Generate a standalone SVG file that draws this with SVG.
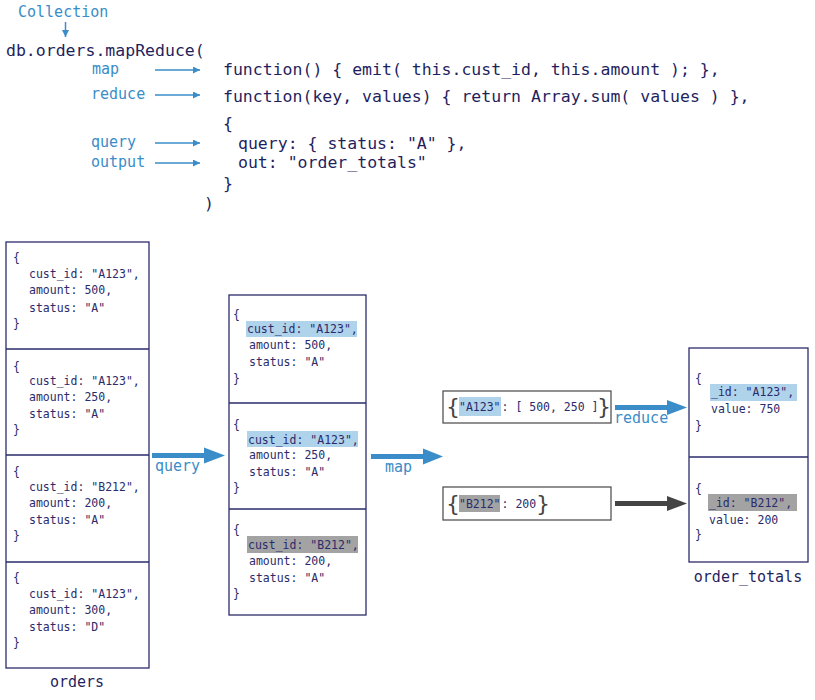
<svg xmlns="http://www.w3.org/2000/svg" width="815" height="700" viewBox="0 0 815 700">
<defs>
<style>
.code{font-family:"DejaVu Sans Mono","Liberation Mono",monospace;font-size:16.5px;fill:#1f1f5e}
.lbl{font-family:"DejaVu Sans Mono","Liberation Mono",monospace;font-size:15px;fill:#3a8dc8}
.doc{font-family:"DejaVu Sans Mono","Liberation Mono",monospace;font-size:11.5px;fill:#2b2b6b}
.brace{font-family:"DejaVu Sans","Liberation Sans",sans-serif;font-size:22px;fill:#444}
.box{fill:#fff;stroke:#2b2b6b;stroke-width:1.3}
.div{stroke:#2b2b6b;stroke-width:1.3}
.ebox{fill:#fff;stroke:#555;stroke-width:1.3}
.hb{fill:#b0d3ec}
.hg{fill:#a3a3a3}
.thin{stroke:#3a8dc8;stroke-width:1.5;fill:none}
</style>
<marker id="ah" viewBox="0 0 10 10" refX="10" refY="5" markerWidth="8" markerHeight="7" markerUnits="userSpaceOnUse" orient="auto">
<path d="M0,0 L10,5 L0,10 z" fill="#3a8dc8"/>
</marker>
</defs>

<g id="code">
<text class="lbl" x="18" y="17">Collection</text>
<text class="code" x="6" y="56">db.orders.mapReduce(</text>
<text class="code" x="223" y="75">function() { emit( this.cust_id, this.amount ); },</text>
<text class="code" x="223" y="102">function(key, values) { return Array.sum( values ) },</text>
<text class="code" x="223" y="129">{</text>
<text class="code" x="238" y="149">query: { status: "A" },</text>
<text class="code" x="238" y="168">out: "order_totals"</text>
<text class="code" x="223" y="189">}</text>
<text class="code" x="204" y="209">)</text>
<text class="lbl" x="92" y="74">map</text>
<text class="lbl" x="91" y="99">reduce</text>
<text class="lbl" x="91" y="147">query</text>
<text class="lbl" x="91" y="167">output</text>
</g>

<g id="orders">
<rect class="box" x="6" y="242" width="143" height="426"/>
<line class="div" x1="6" y1="349" x2="149" y2="349"/>
<line class="div" x1="6" y1="455" x2="149" y2="455"/>
<line class="div" x1="6" y1="562" x2="149" y2="562"/>
<text class="doc" x="13" y="262">{</text>
<text class="doc" x="29" y="278">cust_id: "A123",</text>
<text class="doc" x="29" y="294">amount: 500,</text>
<text class="doc" x="29" y="312">status: "A"</text>
<text class="doc" x="13" y="328">}</text>
<text class="doc" x="13" y="371">{</text>
<text class="doc" x="29" y="385">cust_id: "A123",</text>
<text class="doc" x="29" y="401">amount: 250,</text>
<text class="doc" x="29" y="418">status: "A"</text>
<text class="doc" x="13" y="434">}</text>
<text class="doc" x="13" y="476">{</text>
<text class="doc" x="29" y="491">cust_id: "B212",</text>
<text class="doc" x="29" y="507">amount: 200,</text>
<text class="doc" x="29" y="524">status: "A"</text>
<text class="doc" x="13" y="540">}</text>
<text class="doc" x="13" y="582">{</text>
<text class="doc" x="29" y="598">cust_id: "A123",</text>
<text class="doc" x="29" y="614">amount: 300,</text>
<text class="doc" x="29" y="631">status: "D"</text>
<text class="doc" x="13" y="647">}</text>
<text class="code" x="77" y="687" text-anchor="middle" style="font-size:15px">orders</text>
</g>

<g id="filtered">
<rect class="box" x="229" y="295" width="137" height="320"/>
<line class="div" x1="229" y1="403" x2="366" y2="403"/>
<line class="div" x1="229" y1="509" x2="366" y2="509"/>
<text class="doc" x="233" y="319">{</text>
<rect class="hb" x="246" y="321" width="111" height="16"/>
<text class="doc" x="247" y="333">cust_id: "A123",</text>
<text class="doc" x="249" y="349">amount: 500,</text>
<text class="doc" x="249" y="366">status: "A"</text>
<text class="doc" x="233" y="383">}</text>
<text class="doc" x="233" y="429">{</text>
<rect class="hb" x="247" y="431" width="111" height="16"/>
<text class="doc" x="248" y="444">cust_id: "A123",</text>
<text class="doc" x="249" y="459">amount: 250,</text>
<text class="doc" x="249" y="476">status: "A"</text>
<text class="doc" x="233" y="492">}</text>
<text class="doc" x="233" y="534">{</text>
<rect class="hg" x="247" y="536" width="111" height="17"/>
<text class="doc" x="248" y="549">cust_id: "B212",</text>
<text class="doc" x="249" y="565">amount: 200,</text>
<text class="doc" x="249" y="582">status: "A"</text>
<text class="doc" x="233" y="598">}</text>
</g>

<g id="emitA">
<rect class="ebox" x="443" y="391" width="168" height="32"/>
<text class="brace" x="446" y="414">{</text>
<rect class="hb" x="459" y="397" width="42" height="19"/>
<text class="doc" x="459" y="411">"A123"<tspan dx="1">: [ 500, 250 ]</tspan></text>
<text class="brace" x="597" y="414">}</text>
</g>

<g id="emitB">
<rect class="ebox" x="443" y="487" width="168" height="33"/>
<text class="brace" x="446" y="511">{</text>
<rect class="hg" x="459" y="495" width="41" height="17"/>
<text class="doc" x="459" y="508">"B212"<tspan dx="1">: 200</tspan></text>
<text class="brace" x="536" y="511">}</text>
</g>

<g id="order_totals">
<rect class="box" x="689" y="348" width="119" height="214"/>
<line class="div" x1="689" y1="457" x2="808" y2="457"/>
<text class="doc" x="695" y="383">{</text>
<rect class="hb" x="710" y="384" width="87" height="17"/>
<text class="doc" x="711" y="396">_id: "A123",</text>
<text class="doc" x="711" y="413">value: 750</text>
<text class="doc" x="695" y="430">}</text>
<text class="doc" x="695" y="493">{</text>
<rect class="hg" x="708" y="494" width="89" height="17"/>
<text class="doc" x="709" y="507">_id: "B212",</text>
<text class="doc" x="709" y="524">value: 200</text>
<text class="doc" x="695" y="539">}</text>
<text class="code" x="748" y="582" text-anchor="middle" style="font-size:15px">order_totals</text>
</g>

<g id="connectors">
<line class="thin" x1="65.5" y1="22" x2="65.5" y2="37" marker-end="url(#ah)"/>
<line class="thin" x1="155" y1="70" x2="200" y2="70" marker-end="url(#ah)"/>
<line class="thin" x1="155" y1="95" x2="200" y2="95" marker-end="url(#ah)"/>
<line class="thin" x1="155" y1="143" x2="200" y2="143" marker-end="url(#ah)"/>
<line class="thin" x1="155" y1="163" x2="200" y2="163" marker-end="url(#ah)"/>
<path d="M152,453 L204,453 L204,447.5 L225,455.5 L204,463.5 L204,458 L152,458 z" fill="#3a8dc8"/>
<text class="lbl" x="155" y="471">query</text>
<path d="M371,454 L423,454 L423,448.5 L443,456.5 L423,464.5 L423,459 L371,459 z" fill="#3a8dc8"/>
<text class="lbl" x="385" y="472">map</text>
<path d="M615,405 L667,405 L667,400 L687,407.5 L667,415 L667,410 L615,410 z" fill="#3a8dc8"/>
<text class="lbl" x="614" y="423">reduce</text>
<path d="M615,501 L667,501 L667,496 L687,503.5 L667,511 L667,506 L615,506 z" fill="#444"/>
</g>
</svg>
